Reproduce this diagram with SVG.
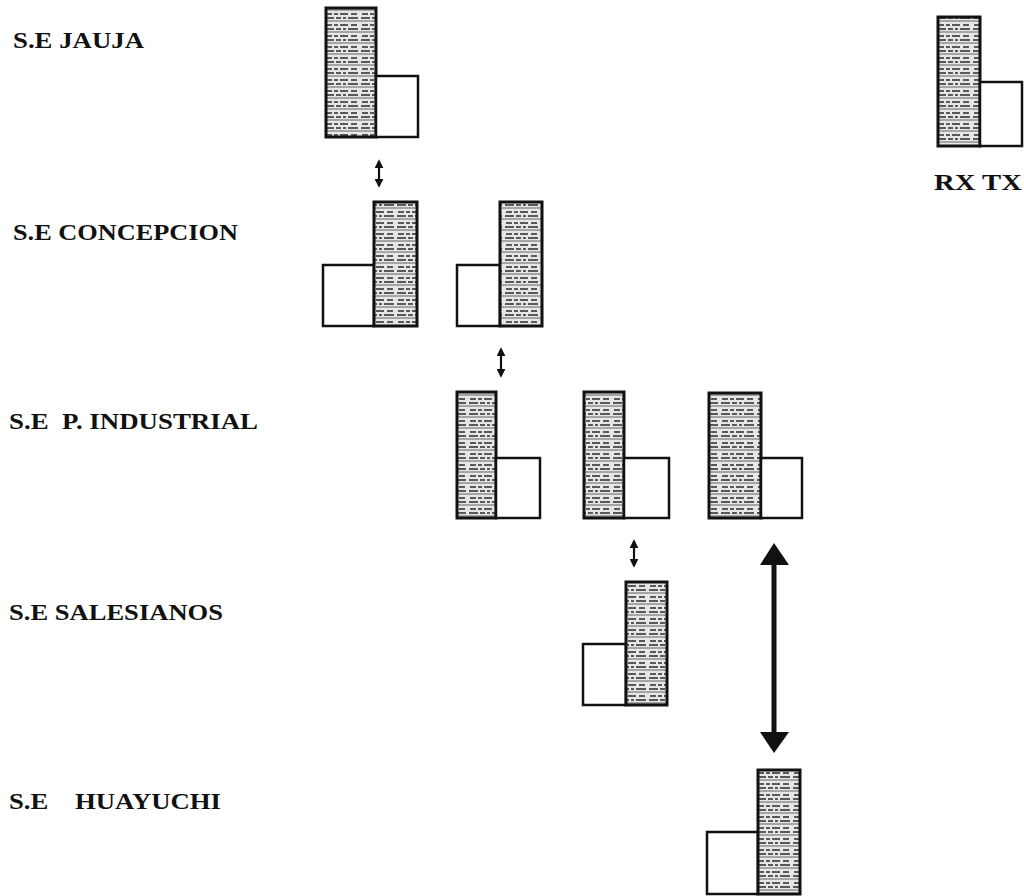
<svg xmlns="http://www.w3.org/2000/svg" width="1024" height="896" viewBox="0 0 1024 896">
<style>
.lbl{font-family:"Liberation Serif","Times New Roman",serif;font-weight:bold;font-size:23px;fill:#111}
.tall{fill:url(#txt);stroke:#111;stroke-width:3}
.short{fill:#fff;stroke:#111;stroke-width:2.5}
.sm{stroke:#111;stroke-width:2.2;fill:none;marker-start:url(#hs);marker-end:url(#he)}
.big{stroke:#111;stroke-width:5;fill:none}
.bighead{fill:#111}
</style>
<defs>
<pattern id="txt" width="36" height="11" patternUnits="userSpaceOnUse">
<rect width="36" height="11" fill="#e6e6e6"/>
<path d="M2 3h6M10 3h4M16 3h8M27 3h6M1 7h9M12 7h5M19 7h3M24 7h10" stroke="#2a2a2a" stroke-width="1.5"/>
<path d="M0 10h36" stroke="#555" stroke-width="0.9"/>
</pattern>
<marker id="he" viewBox="0 0 10 10" refX="8" refY="5" markerWidth="9" markerHeight="9" markerUnits="userSpaceOnUse" orient="auto">
<path d="M0 0L10 5L0 10z" fill="#111"/>
</marker>
<marker id="hs" viewBox="0 0 10 10" refX="2" refY="5" markerWidth="9" markerHeight="9" markerUnits="userSpaceOnUse" orient="auto">
<path d="M10 0L0 5L10 10z" fill="#111"/>
</marker>
</defs>
<rect width="1024" height="896" fill="#fff"/>

<g id="labels">
<text class="lbl" x="13" y="48" textLength="131" lengthAdjust="spacingAndGlyphs">S.E JAUJA</text>
<text class="lbl" x="13" y="240" textLength="225" lengthAdjust="spacingAndGlyphs">S.E CONCEPCION</text>
<text class="lbl" x="9" y="429" textLength="249" lengthAdjust="spacingAndGlyphs" xml:space="preserve">S.E  P. INDUSTRIAL</text>
<text class="lbl" x="9" y="620" textLength="214" lengthAdjust="spacingAndGlyphs">S.E SALESIANOS</text>
<text class="lbl" x="9" y="809" textLength="212" lengthAdjust="spacingAndGlyphs" xml:space="preserve">S.E    HUAYUCHI</text>
</g>

<g id="jauja">
<rect class="tall" x="326" y="8" width="50" height="129"/>
<rect class="short" x="376" y="76" width="42" height="61"/>
</g>
<g id="concepcion-1">
<rect class="short" x="323" y="265" width="51" height="61"/>
<rect class="tall" x="374" y="202" width="43" height="124"/>
</g>
<g id="concepcion-2">
<rect class="short" x="457" y="265" width="43" height="61"/>
<rect class="tall" x="500" y="202" width="42" height="124"/>
</g>
<g id="industrial-1">
<rect class="tall" x="457" y="392" width="39" height="126"/>
<rect class="short" x="496" y="458" width="44" height="60"/>
</g>
<g id="industrial-2">
<rect class="tall" x="584" y="392" width="40" height="126"/>
<rect class="short" x="624" y="458" width="45" height="60"/>
</g>
<g id="industrial-3">
<rect class="tall" x="709" y="393" width="52" height="125"/>
<rect class="short" x="761" y="458" width="41" height="60"/>
</g>
<g id="salesianos">
<rect class="short" x="583" y="644" width="43" height="61"/>
<rect class="tall" x="626" y="582" width="41" height="123"/>
</g>
<g id="huayuchi">
<rect class="short" x="707" y="832" width="51" height="62"/>
<rect class="tall" x="758" y="770" width="42" height="124"/>
</g>
<g id="legend">
<rect class="tall" x="938" y="17" width="42" height="129"/>
<rect class="short" x="980" y="82" width="42" height="64"/>
<text class="lbl" x="934" y="190" textLength="88" lengthAdjust="spacingAndGlyphs">RX TX</text>
</g>

<g id="connectors">
<line class="sm" x1="379" y1="161" x2="379" y2="186"/>
<line class="sm" x1="501" y1="349" x2="501" y2="376"/>
<line class="sm" x1="634" y1="541" x2="634" y2="566"/>
<line class="big" x1="774" y1="560" x2="774" y2="737"/>
<polygon class="bighead" points="774,543 760,565 789,565"/>
<polygon class="bighead" points="774,753 760,732 789,732"/>
</g>
</svg>
